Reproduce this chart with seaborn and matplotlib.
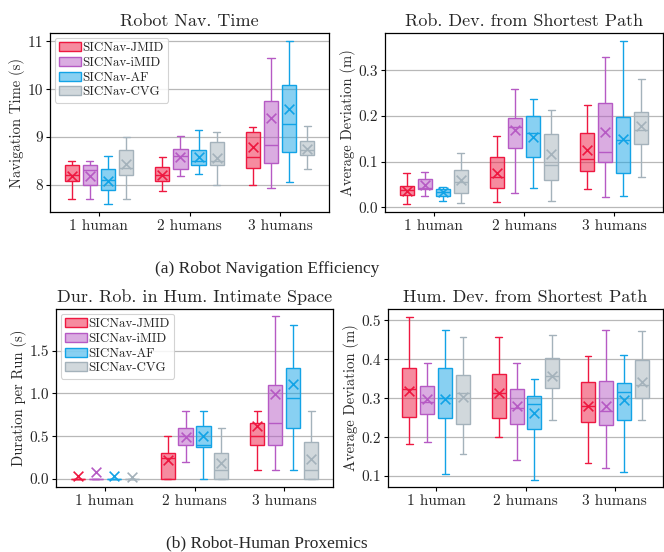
import numpy as np
import pandas as pd
import matplotlib
matplotlib.use("Agg")
import matplotlib.pyplot as plt
from matplotlib.patches import Patch
from matplotlib.colors import to_rgba
import seaborn as sns

# ---------------- data ----------------
groups = ["1 human", "2 humans", "3 humans"]
methods = ["SICNav-JMID", "SICNav-iMID", "SICNav-AF", "SICNav-CVG"]
edge_colors = ["#EE1840", "#B65AC4", "#12A3E6", "#A4B2BB"]

# Robot Nav. Time  [group][method]
nav_lo   = [[7.71, 7.71, 7.61, 7.71], [7.87, 8.18, 8.24, 8.00], [8.00, 7.94, 8.07, 8.33]]
nav_q1   = [[8.08, 8.01, 7.89, 8.21], [8.08, 8.34, 8.42, 8.41], [8.35, 8.46, 8.69, 8.63]]
nav_med  = [[8.22, 8.31, 8.10, 8.36], [8.21, 8.60, 8.50, 8.50], [8.59, 8.84, 9.28, 8.74]]
nav_q3   = [[8.42, 8.42, 8.33, 8.73], [8.37, 8.76, 8.73, 8.90], [9.10, 9.76, 10.08, 8.92]]
nav_hi   = [[8.51, 8.51, 8.61, 9.01], [8.58, 9.02, 9.14, 9.10], [9.22, 10.65, 11.00, 9.24]]
nav_mean = [[8.20, 8.20, 8.09, 8.44], [8.22, 8.59, 8.58, 8.57], [8.80, 9.39, 9.59, 8.75]]

# Rob. Dev. from Shortest Path
rdev_lo   = [[0.007, 0.026, 0.014, 0.010], [0.012, 0.032, 0.042, 0.015], [0.040, 0.023, 0.026, 0.067]]
rdev_q1   = [[0.027, 0.040, 0.025, 0.032], [0.043, 0.130, 0.111, 0.060], [0.080, 0.099, 0.076, 0.139]]
rdev_med  = [[0.039, 0.042, 0.034, 0.055], [0.067, 0.176, 0.164, 0.093], [0.106, 0.122, 0.148, 0.170]]
rdev_q3   = [[0.046, 0.062, 0.040, 0.083], [0.111, 0.195, 0.201, 0.161], [0.164, 0.229, 0.197, 0.209]]
rdev_hi   = [[0.076, 0.077, 0.045, 0.120], [0.156, 0.260, 0.238, 0.213], [0.224, 0.329, 0.364, 0.282]]
rdev_mean = [[0.037, 0.050, 0.033, 0.059], [0.076, 0.170, 0.155, 0.117], [0.126, 0.166, 0.149, 0.179]]

# Dur. Rob. in Hum. Intimate Space
dur_lo   = [[0.0, 0.0, 0.0, 0.0], [0.00, 0.20, 0.00, 0.00], [0.10, 0.10, 0.10, 0.00]]
dur_q1   = [[0.0, 0.0, 0.0, 0.0], [0.00, 0.40, 0.38, 0.00], [0.40, 0.40, 0.60, 0.00]]
dur_med  = [[0.0, 0.0, 0.0, 0.0], [0.25, 0.50, 0.40, 0.10], [0.50, 0.65, 0.95, 0.10]]
dur_q3   = [[0.0, 0.0, 0.0, 0.0], [0.30, 0.60, 0.62, 0.30], [0.65, 1.10, 1.30, 0.43]]
dur_hi   = [[0.0, 0.0, 0.0, 0.0], [0.50, 0.80, 0.80, 0.60], [0.80, 1.90, 1.80, 0.80]]
dur_mean = [[0.03, 0.08, 0.03, 0.02], [0.22, 0.49, 0.50, 0.19], [0.62, 0.99, 1.11, 0.23]]

# Hum. Dev. from Shortest Path
hdev_lo   = [[0.182, 0.187, 0.106, 0.156], [0.201, 0.141, 0.091, 0.244], [0.134, 0.121, 0.110, 0.244]]
hdev_q1   = [[0.251, 0.259, 0.250, 0.235], [0.250, 0.235, 0.220, 0.326], [0.238, 0.230, 0.244, 0.301]]
hdev_med  = [[0.323, 0.291, 0.301, 0.314], [0.313, 0.276, 0.286, 0.358], [0.281, 0.268, 0.315, 0.335]]
hdev_q3   = [[0.377, 0.331, 0.378, 0.359], [0.362, 0.323, 0.305, 0.403], [0.341, 0.344, 0.338, 0.397]]
hdev_hi   = [[0.508, 0.390, 0.474, 0.456], [0.458, 0.390, 0.348, 0.462], [0.409, 0.474, 0.410, 0.472]]
hdev_mean = [[0.319, 0.297, 0.297, 0.304], [0.314, 0.279, 0.262, 0.358], [0.279, 0.279, 0.296, 0.341]]

titles = ["Robot Nav. Time", "Rob. Dev. from Shortest Path",
          "Dur. Rob. in Hum. Intimate Space", "Hum. Dev. from Shortest Path"]
ylabels = ["Navigation Time (s)", "Average Deviation (m)",
           "Duration per Run (s)", "Average Deviation (m)"]
yticks_list = [[8, 9, 10, 11], [0.0, 0.1, 0.2, 0.3], [0.0, 0.5, 1.0, 1.5], [0.1, 0.2, 0.3, 0.4, 0.5]]
ylims = [(7.44, 11.17), (-0.010, 0.382), (-0.093, 1.987), (0.072, 0.529)]

# ---------------- style ----------------
sns.set_theme(style="whitegrid")
plt.rcParams["font.family"] = ["cmr10", "DejaVu Serif"]
plt.rcParams["axes.formatter.use_mathtext"] = True
plt.rcParams["mathtext.fontset"] = "cm"


def box_frame(lo, q1, med, q3, hi):
    rows = []
    for gi, g in enumerate(groups):
        for mi, m in enumerate(methods):
            for v in (lo[gi][mi], q1[gi][mi], med[gi][mi], q3[gi][mi], hi[gi][mi]):
                rows.append({"group": g, "method": m, "value": v})
    return pd.DataFrame(rows)


def mean_frame(mean):
    rows = []
    for gi, g in enumerate(groups):
        for mi, m in enumerate(methods):
            rows.append({"group": g, "method": m, "value": mean[gi][mi]})
    return pd.DataFrame(rows)


panels = [
    (nav_lo, nav_q1, nav_med, nav_q3, nav_hi, nav_mean),
    (rdev_lo, rdev_q1, rdev_med, rdev_q3, rdev_hi, rdev_mean),
    (dur_lo, dur_q1, dur_med, dur_q3, dur_hi, dur_mean),
    (hdev_lo, hdev_q1, hdev_med, hdev_q3, hdev_hi, hdev_mean),
]

W, H = 664, 552
fig = plt.figure(figsize=(W / 100, H / 100), dpi=100)
rects_px = [(50, 33, 329, 212), (385, 33, 663, 212), (56, 309, 333, 487), (388, 309, 663, 487)]

palette = dict(zip(methods, edge_colors))

for i, (lo, q1, med, q3, hi, mean) in enumerate(panels):
    l, t, r, b = rects_px[i]
    ax = fig.add_axes([l / W, 1 - b / H, (r - l) / W, (b - t) / H])
    df = box_frame(lo, q1, med, q3, hi)
    sns.boxplot(data=df, x="group", y="value", hue="method", order=groups,
                hue_order=methods, palette=palette, whis=(0, 100), width=0.8,
                gap=0.22, linewidth=1.0, showfliers=False, legend=False, ax=ax)
    # recolour each hue container: edges full colour, face translucent
    for cont, col in zip(ax.containers, edge_colors):
        for p in cont.boxes:
            p.set_facecolor(to_rgba(col, 0.5))
            p.set_edgecolor(col)
            p.set_linewidth(1.0)
        for ln in list(cont.whiskers) + list(cont.caps) + list(cont.medians):
            ln.set_color(col)
            ln.set_linewidth(1.0)
    mdf = mean_frame(mean)
    sns.stripplot(data=mdf, x="group", y="value", hue="method", order=groups,
                  hue_order=methods, palette=palette, dodge=True, jitter=False,
                  marker="x", s=7, linewidth=1.2, legend=False, ax=ax, zorder=5)

    ax.set_xlim(-0.54, 2.54)
    ax.set_ylim(*ylims[i])
    ax.set_yticks(yticks_list[i])
    if i == 0:
        ax.set_yticklabels([str(v) for v in yticks_list[i]])
    else:
        ax.set_yticklabels([f"{v:.1f}" for v in yticks_list[i]])
    ax.set_xlabel("")
    ax.set_ylabel(ylabels[i], fontsize=10.5, labelpad=2)
    ax.set_title(titles[i], fontsize=13, pad=5)
    ax.tick_params(axis="both", labelsize=11, length=3, width=0.8, color="black",
                   direction="out", pad=2, left=True, bottom=True)
    ax.grid(axis="y", color="#b8b8b8", linewidth=0.9)
    ax.grid(axis="x", visible=False)
    ax.set_axisbelow(True)
    for s in ax.spines.values():
        s.set_color("black")
        s.set_linewidth(0.9)

    if i in (0, 2):
        handles = [Patch(facecolor=to_rgba(c, 0.5), edgecolor=c, linewidth=1.0, label=m)
                   for m, c in zip(methods, edge_colors)]
        leg = ax.legend(handles=handles, loc="upper left", fontsize=9.3,
                        handlelength=1.7, handleheight=0.7, handletextpad=0.1,
                        labelspacing=0.2, borderpad=0.35, borderaxespad=0.35,
                        frameon=True, fancybox=True, framealpha=0.85)
        leg.get_frame().set_edgecolor("#cccccc")
        leg.get_frame().set_linewidth(0.8)

fig.text(267 / W, 1 - 269 / H, "(a) Robot Navigation Efficiency", ha="center", va="center",
         fontsize=12.5, family="Liberation Serif")
fig.text(267 / W, 1 - 543 / H, "(b) Robot-Human Proxemics", ha="center", va="center",
         fontsize=12.5, family="Liberation Serif")

fig.savefig("out.png", dpi=100)
